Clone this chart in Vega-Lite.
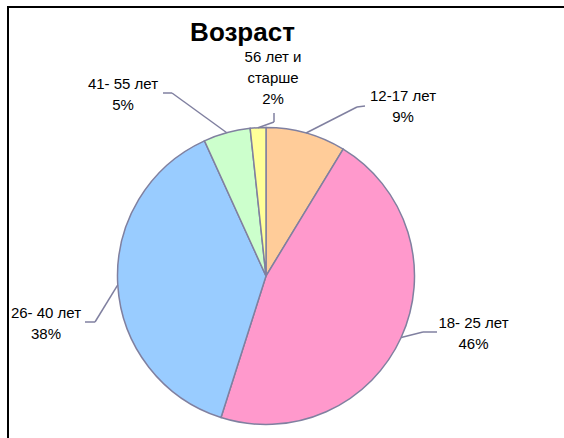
{
  "$schema": "https://vega.github.io/schema/vega-lite/v6.json",
  "width": 560,
  "height": 435,
  "autosize": {"type": "none"},
  "padding": {"left": 8, "top": 7, "right": -4, "bottom": -4},
  "background": "white",
  "config": {"view": {"stroke": "black", "strokeWidth": 2}, "font": "Liberation Sans"},
  "title": {"text": "Возраст", "anchor": "middle", "frame": "group", "offset": 0, "baseline": "alphabetic", "dx": -45.5, "dy": 60, "fontSize": 26, "fontWeight": "bold", "font": "Liberation Sans", "color": "black"},
  "data": {"values": [
    {"name": "12-17 лет", "value": 8.7},
    {"name": "18- 25 лет", "value": 46.2},
    {"name": "26- 40 лет", "value": 38.3},
    {"name": "41- 55 лет", "value": 5.1},
    {"name": "56 лет и\nстарше", "value": 1.7}
  ]},
  "transform": [
    {"window": [{"op": "row_number", "as": "i"}, {"op": "sum", "field": "value", "as": "cum"}]},
    {"joinaggregate": [{"op": "sum", "field": "value", "as": "total"}]},
    {"calculate": "2*PI*(datum.cum - datum.value/2)/datum.total", "as": "ang"},
    {"calculate": "148.5*sin(datum.ang)", "as": "ex"},
    {"calculate": "148.5*cos(datum.ang)", "as": "ey"},
    {"calculate": "[137,207.5,-220,-143,7][datum.i-1]", "as": "lx"},
    {"calculate": "[180,-47,-37,192,219][datum.i-1]", "as": "ly"},
    {"calculate": "[91,157,-171,-94,8][datum.i-1]", "as": "bx"},
    {"calculate": "[169,-56,-46,183,154][datum.i-1]", "as": "by"},
    {"calculate": "[99,171,-181,-103,8][datum.i-1]", "as": "cx"},
    {"calculate": "[170,-56,-46,183,163][datum.i-1]", "as": "cy"},
    {"calculate": "datum.name + '\\n' + format(datum.value/datum.total, '.0%')", "as": "lab"}
  ],
  "layer": [
    {
      "mark": {"type": "arc", "outerRadius": 148.5, "stroke": "#8080A0", "strokeWidth": 1.5},
      "encoding": {
        "theta": {"field": "value", "type": "quantitative", "stack": true},
        "order": {"field": "i", "type": "quantitative"},
        "color": {"field": "name", "type": "nominal", "legend": null,
          "scale": {"domain": ["12-17 лет", "18- 25 лет", "26- 40 лет", "41- 55 лет", "56 лет и\nстарше"],
                    "range": ["#FFCC99", "#FF99CC", "#99CCFF", "#CCFFCC", "#FFFF99"]}},
        "x": {"datum": 0, "type": "quantitative", "scale": {"domain": [-258, 302], "nice": false, "zero": false}, "axis": null},
        "y": {"datum": 0, "type": "quantitative", "scale": {"domain": [-166, 269], "nice": false, "zero": false}, "axis": null}
      }
    },
    {
      "mark": {"type": "rule", "stroke": "#8080A0", "strokeWidth": 1.5},
      "encoding": {
        "x": {"field": "ex", "type": "quantitative", "scale": {"domain": [-258, 302], "nice": false, "zero": false}, "axis": null},
        "y": {"field": "ey", "type": "quantitative", "scale": {"domain": [-166, 269], "nice": false, "zero": false}, "axis": null},
        "x2": {"field": "bx"},
        "y2": {"field": "by"}
      }
    },
    {
      "mark": {"type": "rule", "stroke": "#8080A0", "strokeWidth": 1.5},
      "encoding": {
        "x": {"field": "bx", "type": "quantitative", "axis": null},
        "y": {"field": "by", "type": "quantitative", "axis": null},
        "x2": {"field": "cx"},
        "y2": {"field": "cy"}
      }
    },
    {
      "mark": {"type": "text", "align": "center", "baseline": "middle", "lineHeight": 21, "fontSize": 15, "color": "black", "lineBreak": "\n", "font": "Liberation Sans"},
      "encoding": {
        "x": {"field": "lx", "type": "quantitative", "axis": null},
        "y": {"field": "ly", "type": "quantitative", "axis": null},
        "text": {"field": "lab"}
      }
    }
  ]
}
